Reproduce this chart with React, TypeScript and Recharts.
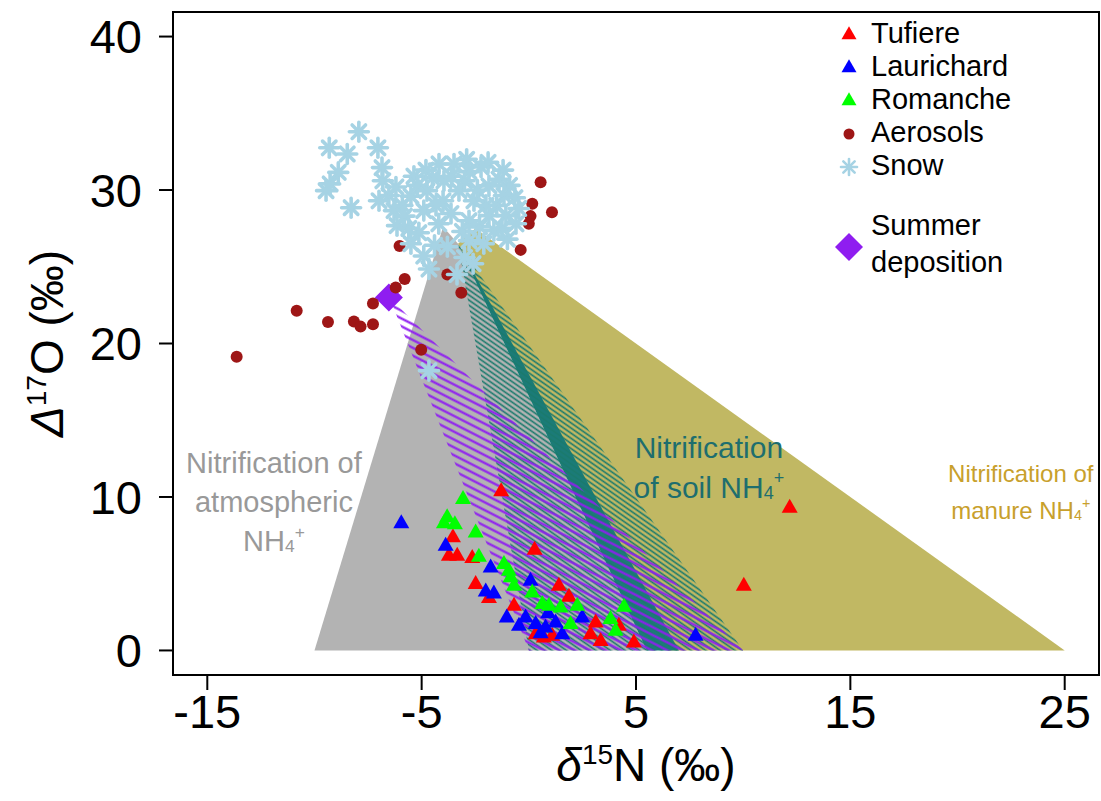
import React from 'react';
import { ScatterChart, Scatter, XAxis, YAxis, ReferenceArea, Legend, Label } from 'recharts';

const FONT = '"Liberation Sans", Arial, Helvetica, sans-serif';

// axes
const xDomain = [-16.6, 26.6];
const yDomain = [-1.6, 41.6];
const xTicks = [-15, -5, 5, 15, 25];
const yTicks = [0, 10, 20, 30, 40];

// river samples (d15N, D17O)
const tufiere = [
  [-1.29, 10.35], [12.17, 9.28], [10.03, 4.19], [-3.54, 7.35], [-3.73, 6.15], [-3.34, 6.15],
  [-2.64, 6.0], [0.27, 6.54], [-2.48, 4.3], [-1.86, 3.39], [1.4, 4.19], [1.87, 3.48],
  [-0.69, 2.89], [0.32, 1.04], [1.09, 0.93], [0.7, 0.82], [3.12, 1.8], [2.88, 1.04],
  [3.35, 0.6], [4.2, 1.59], [4.9, 0.5],
];
const laurichard = [
  [-5.95, 8.26], [-3.88, 6.8], [-1.78, 5.39], [-2.01, 3.82], [-1.63, 3.69], [0.08, 4.52],
  [-1.03, 2.13], [-0.46, 1.59], [-0.15, 2.13], [0.32, 1.7], [0.78, 1.47], [1.25, 1.8],
  [1.56, 1.04], [0.9, 2.4], [0.55, 1.1], [2.49, 2.13], [7.78, 0.93],
];
const romanche = [
  [-3.07, 9.85], [-3.81, 8.65], [-3.45, 8.2], [-3.96, 8.26], [-2.48, 7.67], [-2.33, 6.09],
  [-1.16, 5.61], [-0.93, 5.17], [-0.85, 4.74], [-0.69, 4.2], [0.16, 3.76], [0.63, 3.0],
  [0.94, 2.89], [1.48, 2.78], [1.95, 1.7], [2.26, 2.89], [4.44, 2.83], [3.81, 2.02], [4.05, 1.26],
];

// atmospheric samples
const aerosols = [
  [-13.63, 19.13], [-10.83, 22.13], [-9.37, 21.4], [-8.16, 21.44], [-7.85, 21.1], [-7.27, 21.26],
  [-7.27, 22.6], [-6.21, 23.65], [-5.79, 24.2], [-5.02, 19.6], [-3.8, 24.5], [-3.15, 23.3],
  [-6.03, 26.35], [0.55, 30.5], [0.16, 29.1], [0.08, 28.3], [0.0, 27.8], [-0.38, 26.1], [1.08, 28.55],
];
const snow = [
  [-9.31, 32.75], [-8.47, 32.35], [-7.93, 33.8], [-7.04, 32.75], [-8.89, 31.15], [-9.27, 30.4],
  [-9.46, 29.96], [-8.29, 28.85], [-6.85, 31.46], [-6.81, 30.6], [-6.53, 29.64], [-6.29, 28.66],
  [-6.99, 29.3], [-6.15, 27.68], [-5.6, 27.5], [-5.36, 30.9], [-5.5, 29.6], [-4.9, 28.66],
  [-4.75, 29.96], [-4.19, 31.7], [-3.96, 30.6], [-3.49, 31.7], [-2.79, 31.2], [-3.26, 29.96],
  [-2.56, 29.3], [-2.23, 31.5], [-1.86, 30.27], [-1.39, 30.7], [-1.16, 29.64], [-0.65, 29.5],
  [-1.07, 28.33], [-1.25, 27.5], [-1.86, 28.33], [-2.79, 28.0], [-3.63, 28.47], [-4.33, 28.99],
  [-5.13, 27.22], [-5.5, 26.5], [-4.9, 25.7], [-4.66, 24.85], [-3.35, 24.5], [-2.79, 26.7],
  [-2.1, 26.5], [-1.63, 27.35], [-4.66, 18.23], [-1.9, 31.8], [-0.47, 28.8],
  [-6.2, 30.2], [-5.9, 29.0], [-5.2, 30.3], [-4.5, 30.8], [-4.0, 29.3], [-3.0, 30.6],
  [-2.4, 30.0], [-1.5, 29.0], [-0.9, 30.3], [-2.3, 27.6], [-3.1, 27.3], [-4.2, 27.8],
  [-3.8, 26.3], [-3.0, 25.6], [-1.0, 26.8], [-0.6, 27.8], [-5.8, 28.3], [-4.4, 26.4],
  [-2.6, 25.2], [-2.0, 29.0], [-3.6, 30.9], [-4.8, 31.3], [-2.9, 32.0], [-1.2, 31.3],
];
const summerDeposition = [[-6.53, 23.0]];

// source mixing zones (polygon vertices)
const atmosphericZone = [[-10, 0], [-4, 27.6], [-3.3, 26.5], [5.5, 0]];
const manureZone = [[-3.3, 26.5], [-2.5, 27.5], [25, 0], [6.5, 0]];
const soilCore = [[-3.3, 26.5], [5.5, 0], [7, 0]];
const soilZone = [[-3.3, 26.5], [0, 0], [10, 0]];
const summerZone = [[-6.5, 23], [0, 0], [10, 0]];

// zone labels: [x, y] of first line
const atmosphericLabelAt = [[-11.89, 12.2]];
const soilLabelAt = [[8.4, 13.2]];
const manureLabelAt = [[22.95, 11.5]];

const pts = (a: number[][]) => a.map(([x, y]) => ({ x, y }));

const C = {
  grey: '#b3b3b3',
  olive: '#c1b863',
  teal: '#1b7b78',
  tealLine: '#1a7a6c',
  purple: '#8f1df0',
  red: '#ff0000',
  blue: '#0000ff',
  green: '#00ff00',
  aerosol: '#9e1616',
  snow: '#a6d3e4',
};

const pathOf = (points: { x: number; y: number }[]) =>
  points.map((p, i) => `${i ? 'L' : 'M'}${p.x},${p.y}`).join(' ') + ' Z';

const solidPoly = (fill: string) => (props: any) => <path d={pathOf(props.points)} fill={fill} stroke="none" />;

const hatchPoly = (id: string, color: string, gap: number, width: number, angle: number) => (props: any) => (
  <g>
    <defs>
      <pattern id={id} patternUnits="userSpaceOnUse" width={10} height={gap} patternTransform={`rotate(${angle})`}>
        <line x1={0} y1={gap / 2} x2={10} y2={gap / 2} stroke={color} strokeWidth={width} />
      </pattern>
    </defs>
    <path d={pathOf(props.points)} fill={`url(#${id})`} stroke="none" />
  </g>
);

const Nothing = () => <g />;

const Triangle = ({ cx, cy, fill, w = 16, h = 14 }: any) => (
  <polygon points={`${cx},${cy - (h * 2) / 3} ${cx - w / 2},${cy + h / 3} ${cx + w / 2},${cy + h / 3}`} fill={fill} />
);

const Dot = ({ cx, cy, fill, r = 6 }: any) => <circle cx={cx} cy={cy} r={r} fill={fill} />;

const Snowflake = ({ cx, cy, fill, r = 9, sw = 3.6 }: any) => (
  <g stroke={fill} strokeWidth={sw} strokeLinecap="round">
    {[0, 45, 90, 135].map((a) => {
      const dx = r * Math.cos((a * Math.PI) / 180);
      const dy = r * Math.sin((a * Math.PI) / 180);
      return <line key={a} x1={cx - dx} y1={cy - dy} x2={cx + dx} y2={cy + dy} />;
    })}
    <circle cx={cx} cy={cy} r={r * 0.3} fill={fill} stroke="none" />
  </g>
);

const Diamond = ({ cx, cy, fill, r = 14 }: any) => (
  <polygon points={`${cx},${cy - r} ${cx + r},${cy} ${cx},${cy + r} ${cx - r},${cy}`} fill={fill} />
);

// a line ending in "NH4+" gets a subscript 4 and a superscript +
const LineText = ({ text, size }: { text: string; size: number }) => {
  if (!text.endsWith('NH4+')) return <>{text}</>;
  const head = text.slice(0, -4);
  return (
    <>
      {head}NH
      <tspan fontSize={size * 0.6} dy={size * 0.18}>4</tspan>
      <tspan fontSize={size * 0.6} dy={-size * 0.5}>+</tspan>
    </>
  );
};

const zoneLabel = (lines: string[], color: string, size: number, step: number) => (props: any) => (
  <text fontFamily={FONT} fontSize={size} fill={color} textAnchor="middle">
    {lines.map((l, i) => (
      <tspan key={i} x={props.cx} y={props.cy + i * step} dominantBaseline="central">
        <LineText text={l} size={size} />
      </tspan>
    ))}
  </text>
);

const series = [
  { name: 'Tufiere', color: C.red, Icon: Triangle },
  { name: 'Laurichard', color: C.blue, Icon: Triangle },
  { name: 'Romanche', color: C.green, Icon: Triangle },
  { name: 'Aerosols', color: C.aerosol, Icon: Dot },
  { name: 'Snow', color: C.snow, Icon: Snowflake },
];

const LegendBox = () => (
  <div style={{ fontFamily: FONT, fontSize: 29, color: '#000', lineHeight: '33px' }}>
    {series.map(({ name, color, Icon }) => (
      <div key={name} style={{ display: 'flex', alignItems: 'center', height: 33 }}>
        <svg width={38} height={33}>
          <Icon cx={19} cy={18} fill={color} w={15} h={13} r={Icon === Snowflake ? 8 : 5.5} sw={2.6} />
        </svg>
        <span style={{ marginLeft: 3 }}>{name}</span>
      </div>
    ))}
    <div style={{ display: 'flex', alignItems: 'center', marginTop: 25 }}>
      <svg width={38} height={74}>
        <Diamond cx={19} cy={40} r={14} fill={C.purple} />
      </svg>
      <span style={{ marginLeft: 3, lineHeight: '37px' }}>
        Summer
        <br />
        deposition
      </span>
    </div>
  </div>
);

const XTitle = (props: any) => {
  const vb = props.viewBox || { x: 173, y: 675, width: 926 };
  return (
    <text x={vb.x + vb.width / 2 + 10} y={vb.y + 106} textAnchor="middle" fontFamily={FONT} fontSize={46} fill="#000">
      <tspan fontStyle="italic">δ</tspan>
      <tspan fontSize={28} dy={-17}>15</tspan>
      <tspan dy={17}>N (‰)</tspan>
    </text>
  );
};

const YTitle = (props: any) => {
  const vb = props.viewBox || { x: 113, y: 12, height: 663 };
  const cx = vb.x - 50;
  const cy = vb.y + vb.height / 2;
  return (
    <text x={cx} y={cy} transform={`rotate(-90 ${cx} ${cy})`} textAnchor="middle" fontFamily={FONT} fontSize={46} fill="#000">
      <tspan fontStyle="italic">Δ</tspan>
      <tspan fontSize={28} dy={-17}>17</tspan>
      <tspan dy={17}>O (‰)</tspan>
    </text>
  );
};

export default function App() {
  return (
    <div style={{ position: 'absolute', left: 0, top: 0, background: '#fff' }}>
      <ScatterChart width={1101} height={801} margin={{ top: 12, right: 2, bottom: 66, left: 113 }}>
        <XAxis
          type="number"
          dataKey="x"
          domain={xDomain}
          ticks={xTicks}
          allowDataOverflow
          height={60}
          axisLine={false}
          tickSize={15}
          tickMargin={5}
          tickLine={{ stroke: '#000', strokeWidth: 2 }}
          tick={{ fontSize: 47, fill: '#000', fontFamily: FONT }}
        >
          <Label content={XTitle} />
        </XAxis>
        <YAxis
          type="number"
          dataKey="y"
          domain={yDomain}
          ticks={yTicks}
          allowDataOverflow
          width={60}
          axisLine={false}
          tickSize={14}
          tickMargin={17}
          tickLine={{ stroke: '#000', strokeWidth: 2 }}
          tick={{ fontSize: 47, fill: '#000', fontFamily: FONT }}
        >
          <Label content={YTitle} />
        </YAxis>

        <Scatter data={pts(atmosphericZone)} shape={Nothing} line={solidPoly(C.grey)} legendType="none" isAnimationActive={false} />
        <Scatter data={pts(manureZone)} shape={Nothing} line={solidPoly(C.olive)} legendType="none" isAnimationActive={false} />
        <Scatter data={pts(soilCore)} shape={Nothing} line={solidPoly(C.teal)} legendType="none" isAnimationActive={false} />
        <Scatter data={pts(soilZone)} shape={Nothing} line={hatchPoly('hatchSoil', C.tealLine, 4.2, 1.6, 35)} legendType="none" isAnimationActive={false} />
        <Scatter data={pts(summerZone)} shape={Nothing} line={hatchPoly('hatchSummer', C.purple, 7, 2.2, 27)} legendType="none" isAnimationActive={false} />

        <Scatter data={pts(atmosphericLabelAt)} shape={zoneLabel(['Nitrification of', 'atmospheric', 'NH4+'], '#999999', 29, 39)} legendType="none" isAnimationActive={false} />
        <Scatter data={pts(soilLabelAt)} shape={zoneLabel(['Nitrification', 'of soil NH4+'], '#1e6e6e', 30, 40)} legendType="none" isAnimationActive={false} />
        <Scatter data={pts(manureLabelAt)} shape={zoneLabel(['Nitrification of', 'manure NH4+'], '#c8a02c', 24, 37)} legendType="none" isAnimationActive={false} />

        <Scatter name="Summer deposition" data={pts(summerDeposition)} fill={C.purple} shape={(p: any) => <Diamond {...p} r={14} />} isAnimationActive={false} />
        <Scatter name="Aerosols" data={pts(aerosols)} fill={C.aerosol} shape={(p: any) => <Dot {...p} r={6} />} isAnimationActive={false} />
        <Scatter name="Snow" data={pts(snow)} fill={C.snow} shape={(p: any) => <Snowflake {...p} r={9.5} />} isAnimationActive={false} />
        <Scatter name="Tufiere" data={pts(tufiere)} fill={C.red} shape={(p: any) => <Triangle {...p} />} isAnimationActive={false} />
        <Scatter name="Laurichard" data={pts(laurichard)} fill={C.blue} shape={(p: any) => <Triangle {...p} />} isAnimationActive={false} />
        <Scatter name="Romanche" data={pts(romanche)} fill={C.green} shape={(p: any) => <Triangle {...p} />} isAnimationActive={false} />

        <ReferenceArea x1={xDomain[0]} x2={xDomain[1]} y1={yDomain[0]} y2={yDomain[1]} fill="none" fillOpacity={0} stroke="#000" strokeWidth={2} ifOverflow="visible" />

        <Legend
          layout="vertical"
          align="center"
          verticalAlign="middle"
          width={270}
          content={() => <LegendBox />}
          wrapperStyle={{ left: 830, top: 17, width: 270 }}
        />
      </ScatterChart>
    </div>
  );
}
